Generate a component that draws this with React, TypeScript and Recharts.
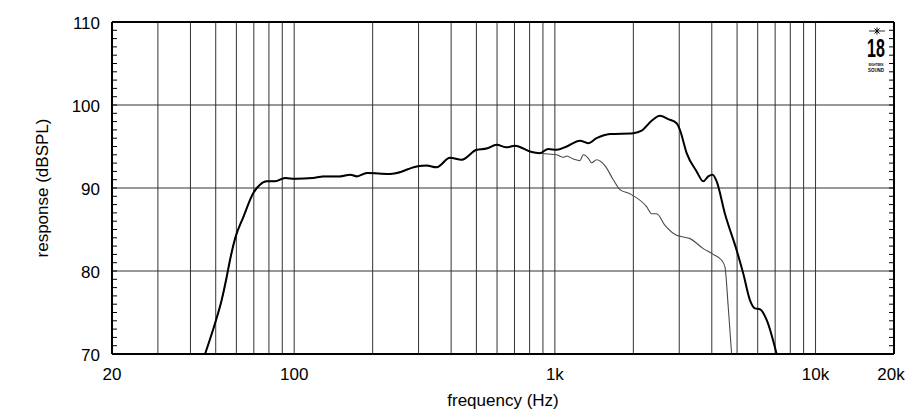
import React from 'react';
import { LineChart, Line, XAxis, YAxis, ReferenceLine } from 'recharts';

// On-axis response (thick black)
const mainFreq = [45.5, 49.7, 52.7, 55.1, 56.7, 59.3, 63.8, 69.7, 73.9, 78.4, 84.4, 92.2, 100.7, 118, 129, 150, 164, 174, 190, 233, 247, 295, 322, 352, 396, 439, 501, 547, 598, 653, 703, 802, 876, 943, 1016, 1110, 1248, 1342, 1446, 1627, 1998, 2152, 2351, 2530, 2722, 2932, 3018, 3203, 3498, 3708, 3876, 4030, 4175, 4492, 4982, 5281, 5602, 5856, 6119, 6493, 7091];
const mainSpl = [70, 73.7, 76.5, 79.3, 81.3, 83.9, 86.5, 89.4, 90.4, 90.8, 90.8, 91.2, 91.1, 91.2, 91.4, 91.4, 91.6, 91.4, 91.8, 91.7, 91.8, 92.6, 92.7, 92.5, 93.65, 93.4, 94.6, 94.75, 95.2, 94.9, 95.1, 94.4, 94.2, 94.7, 94.6, 95.0, 95.7, 95.4, 96.0, 96.5, 96.6, 96.9, 98.1, 98.7, 98.3, 97.8, 97.0, 94.2, 92.0, 90.8, 91.4, 91.6, 90.8, 86.9, 82.5, 79.7, 76.5, 75.5, 75.4, 74.1, 70];

// Off-axis response (thin grey)
const offFreq = [45.5, 49.7, 52.7, 55.1, 56.7, 59.3, 63.8, 69.7, 73.9, 78.4, 84.4, 92.2, 100.7, 118, 129, 150, 164, 174, 190, 233, 247, 295, 322, 352, 396, 439, 501, 547, 598, 653, 703, 802, 876, 943, 1016, 1077, 1110, 1177, 1248, 1285, 1342, 1384, 1446, 1556, 1675, 1777, 1940, 2249, 2351, 2458, 2645, 2932, 3108, 3298, 3708, 4051, 4363, 4492, 4624, 4766];
const offSpl = [70, 73.7, 76.5, 79.3, 81.3, 83.9, 86.5, 89.4, 90.4, 90.8, 90.8, 91.2, 91.1, 91.2, 91.4, 91.4, 91.6, 91.4, 91.8, 91.7, 91.8, 92.6, 92.7, 92.5, 93.65, 93.4, 94.6, 94.75, 95.2, 94.9, 95.1, 94.4, 94.2, 94.1, 94.0, 93.7, 93.85, 93.5, 93.3, 94.0, 93.6, 93.05, 93.4, 92.7, 91.0, 89.8, 89.3, 87.75, 86.9, 86.9, 85.5, 84.3, 84.1, 83.9, 82.7, 82.0, 81.3, 80.5, 75.7, 70];

const xTicks = [20, 100, 1000, 10000, 20000];
const xTickLabels = ['20', '100', '1k', '10k', '20k'];
const yMajorTicks = [70, 80, 90, 100, 110];
const yMinorTicks = [70, 71, 72, 73, 74, 75, 76, 77, 78, 79, 80, 81, 82, 83, 84, 85, 86, 87, 88, 89, 90, 91, 92, 93, 94, 95, 96, 97, 98, 99, 100, 101, 102, 103, 104, 105, 106, 107, 108, 109, 110];
const gridFreqs = [30, 40, 50, 60, 70, 80, 90, 100, 200, 300, 400, 500, 600, 700, 800, 900, 1000, 2000, 3000, 4000, 5000, 6000, 7000, 8000, 9000, 10000];
const gridLevels = [80, 90, 100];

const mainData = mainFreq.map((f, i) => ({ f, spl: mainSpl[i] }));
const offData = offFreq.map((f, i) => ({ f, spl: offSpl[i] }));

const FONT = '"Liberation Sans", Arial, Helvetica, sans-serif';

const LeftTick = (props: any) => {
  const { x, y, payload } = props;
  const v = payload.value;
  return (
    <g>
      <line x1={x} x2={x + 5} y1={y} y2={y} stroke="#000" strokeWidth={1} />
      {yMajorTicks.includes(v) && (
        <text x={x - 12} y={y + 7} textAnchor="end" fontSize={17} fontFamily={FONT} fill="#000">
          {v}
        </text>
      )}
    </g>
  );
};

const RightTick = (props: any) => {
  const { x, y } = props;
  return <line x1={x - 5} x2={x} y1={y} y2={y} stroke="#000" strokeWidth={1} />;
};

const BottomTick = (props: any) => {
  const { x, y, payload } = props;
  const idx = xTicks.indexOf(payload.value);
  const label = idx >= 0 ? xTickLabels[idx] : '';
  const shift = idx === xTicks.length - 1 ? -3 : 0;
  return (
    <text x={x + shift} y={y + 26} textAnchor="middle" fontSize={17} fontFamily={FONT} fill="#000">
      {label}
    </text>
  );
};

const YTitle = (props: any) => {
  const vb = props.viewBox || { x: 0, y: 22, width: 112, height: 332 };
  const cx = vb.x + 42;
  const cy = vb.y + vb.height / 2;
  return (
    <text x={cx} y={cy} transform={`rotate(-90 ${cx} ${cy})`} textAnchor="middle" dominantBaseline="central" fontSize={17} fontFamily={FONT} fill="#000">
      response (dBSPL)
    </text>
  );
};

const XTitle = (props: any) => {
  const vb = props.viewBox || { x: 112, y: 354, width: 782, height: 58 };
  const cx = vb.x + vb.width / 2;
  return (
    <text x={cx} y={vb.y + 52} textAnchor="middle" fontSize={17} fontFamily={FONT} fill="#000">
      frequency (Hz)
    </text>
  );
};

const Logo = () => (
  <svg width={914} height={412} style={{ position: 'absolute', left: 0, top: 0, pointerEvents: 'none' }}>
    <line x1={869} x2={885} y1={31} y2={31} stroke="#000" strokeWidth={0.8} />
    <line x1={877} x2={877} y1={27.5} y2={34.5} stroke="#000" strokeWidth={1} />
    <line x1={874.5} x2={879.5} y1={28.5} y2={33.5} stroke="#000" strokeWidth={1} />
    <line x1={879.5} x2={874.5} y1={28.5} y2={33.5} stroke="#000" strokeWidth={1} />
    <text transform="translate(876,56.5) scale(0.64,1)" textAnchor="middle" fontSize={25} fontWeight="bold" fontFamily={FONT} fill="#000">
      18
    </text>
    <text transform="translate(876,65.5) scale(0.8,1)" textAnchor="middle" fontSize={3.6} fontWeight="bold" fontFamily={FONT} fill="#000">
      EIGHTEEN
    </text>
    <text transform="translate(876,71.5) scale(0.8,1)" textAnchor="middle" fontSize={5.5} fontWeight="bold" fontFamily={FONT} fill="#000">
      SOUND
    </text>
  </svg>
);

export default function App() {
  return (
    <div style={{ position: 'absolute', left: 0, top: 0, width: 914, height: 412, background: '#fff' }}>
      <LineChart width={914} height={412} margin={{ top: 22, right: 0, bottom: 0, left: 0 }}>
        <XAxis
          dataKey="f"
          type="number"
          scale="log"
          domain={[20, 20000]}
          allowDataOverflow
          ticks={xTicks}
          interval={0}
          tickSize={0}
          tickMargin={0}
          tickLine={false}
          tick={<BottomTick />}
          height={58}
          axisLine={{ stroke: '#000', strokeWidth: 2 }}
          label={<XTitle />}
        />
        <YAxis
          yAxisId="left"
          type="number"
          domain={[70, 110]}
          allowDataOverflow
          ticks={yMinorTicks}
          interval={0}
          tickSize={0}
          tickMargin={0}
          tickLine={false}
          tick={<LeftTick />}
          width={112}
          axisLine={{ stroke: '#000', strokeWidth: 2 }}
          label={<YTitle />}
        />
        <YAxis
          yAxisId="right"
          orientation="right"
          type="number"
          domain={[70, 110]}
          allowDataOverflow
          ticks={yMinorTicks}
          interval={0}
          tickSize={0}
          tickMargin={0}
          tickLine={false}
          tick={<RightTick />}
          width={20}
          axisLine={{ stroke: '#000', strokeWidth: 2 }}
        />
        {gridFreqs.map((g) => (
          <ReferenceLine key={'vx' + g} x={g} yAxisId="left" stroke="#333" strokeWidth={1} />
        ))}
        {gridLevels.map((g) => (
          <ReferenceLine key={'hy' + g} y={g} yAxisId="left" stroke="#333" strokeWidth={1} />
        ))}
        <ReferenceLine y={110} yAxisId="left" stroke="#000" strokeWidth={2} />
        <Line
          data={offData}
          dataKey="spl"
          yAxisId="left"
          type="monotone"
          stroke="#4a4a4a"
          strokeWidth={1.1}
          dot={false}
          isAnimationActive={false}
        />
        <Line
          data={mainData}
          dataKey="spl"
          yAxisId="left"
          type="monotone"
          stroke="#000"
          strokeWidth={2}
          dot={false}
          isAnimationActive={false}
        />
      </LineChart>
      <Logo />
    </div>
  );
}
